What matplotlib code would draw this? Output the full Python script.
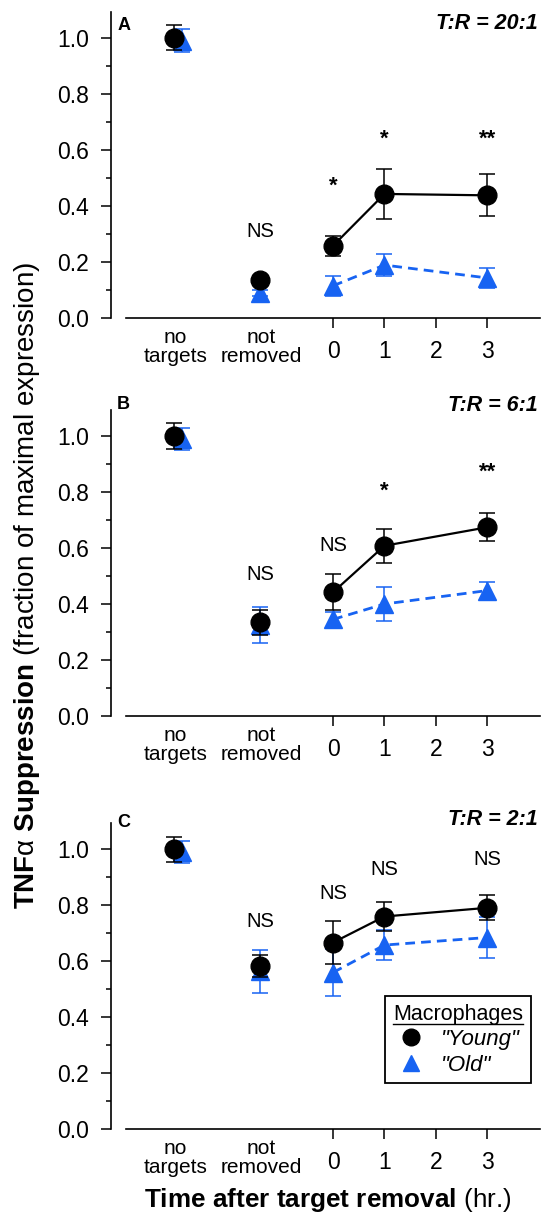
import matplotlib
matplotlib.use('Agg')
import matplotlib.pyplot as plt
from matplotlib.lines import Line2D
from matplotlib.ticker import MultipleLocator, FormatStrFormatter

plt.rcParams['font.family'] = ['Liberation Sans', 'DejaVu Sans']
plt.rcParams['mathtext.fontset'] = 'custom'
plt.rcParams['mathtext.rm'] = 'Liberation Sans'
plt.rcParams['mathtext.bf'] = 'Liberation Sans:bold'
plt.rcParams['mathtext.it'] = 'Liberation Sans:italic'

# ---- data ----
panels = ['A', 'B', 'C']
ratios = ['T:R = 20:1', 'T:R = 6:1', 'T:R = 2:1']
cat_labels = ['no\ntargets', 'not\nremoved']
cat_x = [-3.09, -1.42]          # x position of the two control groups
old_shift = [0.15, 0.0]         # old group drawn a bit right of young at "no targets"
hours = [0, 1, 3]

# order: no targets, not removed, 0 h, 1 h, 3 h
young_mean = [[1.00, 0.133, 0.257, 0.442, 0.437],
              [1.00, 0.335, 0.442, 0.608, 0.674],
              [1.00, 0.583, 0.667, 0.760, 0.791]]
young_err = [[0.045, 0.010, 0.036, 0.090, 0.075],
             [0.045, 0.045, 0.065, 0.060, 0.050],
             [0.045, 0.040, 0.078, 0.052, 0.045]]
old_mean = [[0.99, 0.088, 0.114, 0.188, 0.142],
            [0.99, 0.325, 0.345, 0.400, 0.448],
            [0.99, 0.565, 0.560, 0.658, 0.685]]
old_err = [[0.040, 0.010, 0.035, 0.040, 0.035],
           [0.040, 0.065, 0.028, 0.060, 0.030],
           [0.040, 0.077, 0.085, 0.055, 0.075]]

# significance marks for: not removed, 0 h, 1 h, 3 h
sig_text = [['NS', '*', '*', '**'],
            ['NS', 'NS', '*', '**'],
            ['NS', 'NS', 'NS', 'NS']]
sig_y = [[0.307, 0.470, 0.636, 0.636],
         [0.504, 0.610, 0.803, 0.872],
         [0.741, 0.843, 0.929, 0.965]]

blue = '#1763f2'
W, H = 542, 1217
fig = plt.figure(figsize=(W / 100, H / 100), dpi=100)

zero_px = [317.7, 716.0, 1129.3]     # pixel row of y = 0 in each panel
letter_y = [1.045, 1.111, 1.097]
ratio_y = [1.049, 1.108, 1.105]
ymax = 306 / 280

axes = []
for i in range(3):
    ax = fig.add_axes([111 / W, (H - zero_px[i]) / H, 431 / W, 306 / H])
    axes.append(ax)
    ym, ye = young_mean[i], young_err[i]
    om, oe = old_mean[i], old_err[i]
    ox = [cat_x[0] + old_shift[0], cat_x[1] + old_shift[1]] + hours
    yx = cat_x + hours

    # old macrophages
    ax.errorbar(ox, om, yerr=oe, fmt='none', ecolor=blue, elinewidth=1.1,
                capsize=5.5, capthick=1.1, zorder=2)
    ax.plot(hours, om[2:], color=blue, lw=2.0, ls=(0, (3.5, 2.2)), zorder=3)
    ax.plot(ox, om, ls='none', marker='^', ms=13.5, color=blue, zorder=4)

    # young macrophages
    ax.errorbar(yx, ym, yerr=ye, fmt='none', ecolor='black', elinewidth=1.1,
                capsize=5.5, capthick=1.1, zorder=5)
    ax.plot(hours, ym[2:], color='black', lw=1.6, zorder=6)
    ax.plot(yx, ym, ls='none', marker='o', ms=13.5, color='black', zorder=7)

    for j, (t, y) in enumerate(zip(sig_text[i], sig_y[i])):
        xx = yx[j + 1]
        if t == 'NS':
            ax.text(xx, y, t, ha='center', va='center', fontsize=14.5)
        else:
            ax.text(xx, y, t, ha='center', va='center', fontsize=16, fontweight='bold')

    ax.set_xlim(-4.32, 4.065)
    ax.set_ylim(0, ymax)
    ax.spines['top'].set_visible(False)
    ax.spines['right'].set_visible(False)
    ax.spines['left'].set_bounds(0, ymax)
    ax.spines['bottom'].set_bounds(-4.03, 4.02)
    for s in ('left', 'bottom'):
        ax.spines[s].set_linewidth(1.2)

    ax.set_yticks([0, 0.2, 0.4, 0.6, 0.8, 1.0])
    ax.yaxis.set_minor_locator(MultipleLocator(0.1))
    ax.yaxis.set_major_formatter(FormatStrFormatter('%.1f'))
    ax.set_xticks([0, 1, 2, 3])
    ax.tick_params(axis='both', which='major', length=7.2, width=1.1,
                   pad=8.5, labelsize=16.5)
    ax.tick_params(axis='y', which='minor', length=3.6, width=1.1)

    for lbl, xx in zip(cat_labels, cat_x):
        ax.annotate(lbl, xy=(xx + 0.02, 0), xycoords='data', xytext=(0, -21),
                    textcoords='offset points', ha='center', va='center',
                    fontsize=15, linespacing=1.0, annotation_clip=False)

    ax.text(-4.2, letter_y[i], panels[i], ha='left', va='center',
            fontsize=13, fontweight='bold')
    ax.text(3.99, ratio_y[i], ratios[i], ha='right', va='center',
            fontsize=15.5, fontweight='bold', fontstyle='italic')

# legend in panel C
handles = [Line2D([], [], ls='none', marker='o', ms=12, color='black'),
           Line2D([], [], ls='none', marker='^', ms=12, color=blue)]
leg = axes[2].legend(handles, ['"Young"', '"Old"'], title='Macrophages',
                     loc='lower left', bbox_to_anchor=((385 - 111) / 431, 46 / 306),
                     borderaxespad=0, prop={'style': 'italic', 'size': 16},
                     title_fontsize=15.5, fancybox=False, framealpha=1,
                     edgecolor='black', handletextpad=0.7, labelspacing=0.2,
                     borderpad=0.35, handlelength=1.3)
leg.get_frame().set_linewidth(1.3)

fig.text(27 / W, 1 - 585 / H,
         r'$\mathbf{TNF}$α $\mathbf{Suppression}$ (fraction of maximal expression)',
         rotation=90, ha='center', va='center', fontsize=20)
fig.text(328 / W, 1 - 1200 / H, r'$\mathbf{Time\ after\ target\ removal}$ (hr.)',
         ha='center', va='center', fontsize=18.8)

# underline the legend title
fig.canvas.draw()
bb = leg.get_title().get_window_extent(fig.canvas.get_renderer())
fig.add_artist(Line2D([bb.x0 / W, bb.x1 / W], [(bb.y0 + 1) / H, (bb.y0 + 1) / H],
                      color='black', lw=1.0))

fig.savefig('out.png', dpi=100)
